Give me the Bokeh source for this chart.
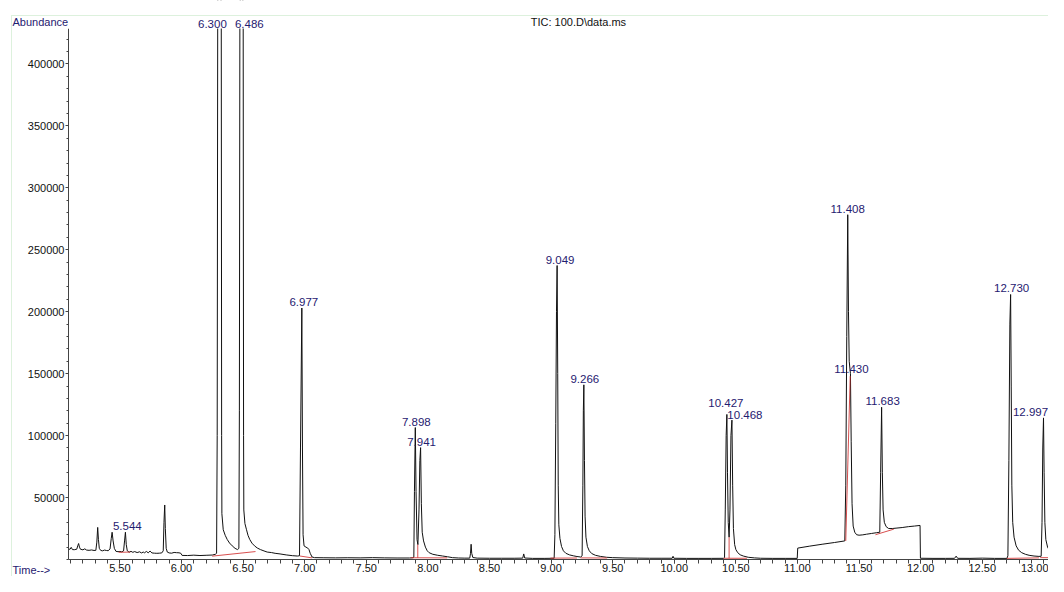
from bokeh.plotting import figure
from bokeh.models import (ColumnDataSource, LabelSet, Label, FixedTicker, BoxAnnotation,
                          SingleIntervalTicker, PrintfTickFormatter, Range1d)
from bokeh.core.properties import value
from bokeh.embed import file_html
from bokeh.resources import INLINE

# ---------------- data ----------------
# trace vertices (retention time [min], abundance)
trace_5_6 = [
    (5.083, 8600), (5.095, 8200), (5.105, 9800), (5.115, 8000), (5.13, 7900),
    (5.15, 8300), (5.158, 11000), (5.165, 12900), (5.172, 10000), (5.18, 8300),
    (5.20, 7800), (5.215, 8600), (5.23, 7600), (5.25, 7400), (5.27, 7700),
    (5.29, 7300), (5.305, 7400), (5.313, 14000), (5.320, 25900), (5.326, 16000),
    (5.333, 9000), (5.345, 7300), (5.36, 7000), (5.375, 7600), (5.39, 7300),
    (5.405, 7100), (5.42, 8500), (5.43, 17000), (5.437, 22000), (5.445, 15000),
    (5.455, 9000), (5.468, 6600), (5.485, 6300), (5.50, 6500), (5.515, 6200),
    (5.53, 6900), (5.538, 15000), (5.545, 22000), (5.552, 12000), (5.56, 7000),
    (5.575, 5900), (5.59, 6600), (5.605, 5800), (5.62, 6400), (5.64, 5600),
    (5.66, 6200), (5.675, 5300), (5.69, 6000), (5.70, 5400), (5.715, 6500),
    (5.73, 5400), (5.745, 6800), (5.76, 5300), (5.78, 5100), (5.80, 5000),
    (5.82, 5100), (5.84, 5300), (5.852, 7000), (5.858, 30000), (5.864, 44000),
    (5.869, 25000), (5.876, 9000), (5.885, 6000), (5.90, 5300), (5.92, 5100),
    (5.94, 5700), (5.96, 5500), (5.98, 5400), (5.995, 5000), (6.005, 3300),
    (6.05, 3200), (6.10, 3500), (6.15, 3200), (6.20, 3400), (6.25, 3600),
    (6.275, 4200),
]
trace_6_8 = [
    (6.285, 5000), (6.290, 100000), (6.294, 430000), (6.300, 560000),
    (6.316, 500000), (6.323, 430000), (6.326, 100000), (6.328, 37000),
    (6.339, 24000), (6.355, 19500), (6.371, 16200), (6.39, 13300),
    (6.412, 11000), (6.435, 9000), (6.455, 8000), (6.466, 9000),
    (6.470, 120000), (6.474, 430000), (6.486, 520000), (6.497, 460000),
    (6.501, 430000), (6.504, 100000), (6.506, 40000), (6.515, 29000),
    (6.528, 24000), (6.54, 19500), (6.554, 16200), (6.572, 13200),
    (6.593, 11000), (6.615, 9300), (6.641, 8000), (6.67, 6900), (6.696, 6000),
    (6.73, 5600), (6.76, 5000), (6.80, 4500), (6.85, 3700), (6.90, 3100),
    (6.94, 2800), (6.958, 3000), (6.966, 90000), (6.977, 203000),
    (6.982, 90000), (6.987, 20000), (6.995, 11000), (7.01, 10000),
    (7.025, 9200), (7.035, 8000), (7.045, 5000), (7.06, 2000), (7.08, 1500),
    (7.15, 1400), (7.25, 1300), (7.35, 1400), (7.45, 1300), (7.55, 1500),
    (7.65, 1300), (7.75, 1200), (7.85, 1200), (7.882, 1400),
]
trace_8_9 = [
    (7.886, 2000), (7.891, 55000), (7.898, 106500), (7.904, 55000),
    (7.912, 16000), (7.919, 12000), (7.928, 40000), (7.935, 80000),
    (7.941, 90300), (7.947, 45000), (7.954, 22000), (7.965, 15000),
    (7.98, 10000), (7.995, 7000), (8.01, 5500), (8.04, 4200), (8.08, 3400),
    (8.12, 2800), (8.16, 2200), (8.20, 1500), (8.25, 1200), (8.30, 1100),
    (8.34, 1100), (8.346, 5000), (8.351, 12300), (8.356, 5000), (8.365, 1600),
    (8.40, 1100), (8.50, 1000), (8.60, 1000), (8.70, 1000), (8.77, 1100),
    (8.778, 4500), (8.786, 1200), (8.85, 900), (8.95, 900), (9.025, 1000),
]
trace_9_10 = [
    (9.031, 20000), (9.038, 110000), (9.044, 200000), (9.049, 237300),
    (9.054, 150000), (9.058, 60000), (9.063, 28000), (9.072, 17000),
    (9.085, 10500), (9.10, 7000), (9.12, 5000), (9.15, 3700), (9.18, 3000),
    (9.21, 2400), (9.24, 2000), (9.252, 3000), (9.258, 60000),
    (9.262, 120000), (9.266, 141000), (9.271, 80000), (9.276, 35000),
    (9.283, 18000), (9.295, 10500), (9.31, 7000), (9.33, 4800), (9.36, 3400),
    (9.40, 2500), (9.45, 1800), (9.50, 1500), (9.60, 1200), (9.70, 1100),
    (9.80, 1000), (9.90, 1000), (9.983, 1000), (9.99, 2600), (9.997, 1000),
    (10.10, 900), (10.20, 900), (10.30, 900), (10.40, 950),
]
trace_10_11 = [
    (10.408, 1500), (10.414, 40000), (10.421, 100000), (10.427, 117100),
    (10.432, 70000), (10.438, 30000), (10.445, 18000), (10.452, 40000),
    (10.460, 100000), (10.468, 112500), (10.474, 60000), (10.48, 25000),
    (10.49, 12000), (10.50, 8000), (10.515, 5500), (10.535, 3800),
    (10.56, 2800), (10.60, 1800), (10.65, 1300), (10.70, 1000), (10.80, 900),
    (10.90, 900), (10.998, 900),
]
trace_11_12 = [
    (11.002, 9200), (11.10, 10800), (11.20, 12300), (11.30, 13700),
    (11.384, 15000), (11.392, 60000), (11.400, 180000), (11.408, 278300),
    (11.414, 200000), (11.420, 160000), (11.430, 150000), (11.436, 95000),
    (11.443, 45000), (11.452, 27000), (11.465, 22000), (11.48, 20000),
    (11.50, 19600), (11.53, 19900), (11.56, 20400), (11.60, 21000),
    (11.64, 21600), (11.668, 22000), (11.675, 70000), (11.683, 122900),
    (11.689, 70000), (11.695, 40000), (11.705, 30000), (11.72, 26500),
    (11.74, 25000), (11.77, 25000), (11.80, 25300), (11.85, 25800),
    (11.90, 26500), (11.95, 27000), (11.995, 27500), (11.998, 1000),
]
trace_12_13 = [
    (12.10, 900), (12.20, 900), (12.275, 950), (12.288, 2700), (12.30, 950),
    (12.40, 900), (12.50, 1100), (12.60, 900), (12.70, 900), (12.708, 3000),
    (12.716, 80000), (12.724, 190000), (12.730, 213900), (12.735, 140000),
    (12.740, 60000), (12.747, 30000), (12.758, 18000), (12.775, 11000),
    (12.795, 7500), (12.82, 5500), (12.85, 4200), (12.88, 3400),
    (12.92, 2800), (12.96, 2500), (12.978, 2600), (12.985, 30000),
    (12.991, 90000), (12.997, 114300), (13.002, 70000), (13.008, 30000),
    (13.016, 16000), (13.03, 10000), (13.05, 6500), (13.07, 4500),
    (13.10, 3200), (13.13, 2500), (13.17, 2000),
]

# labelled peaks
peak_rt = [5.544, 6.300, 6.486, 6.977, 7.898, 7.941, 9.049, 9.266,
           10.427, 10.468, 11.408, 11.430, 11.683, 12.730, 12.997]
peak_label = ["5.544", "6.300", "6.486", "6.977", "7.898", "7.941", "9.049",
              "9.266", "10.427", "10.468", "11.408", "11.430", "11.683",
              "12.730", "12.997"]
peak_height = [22000, 560000, 520000, 203000, 106500, 90300, 237300, 141000,
               117100, 112500, 278300, 150000, 122900, 213900, 114300]

# integration baselines (red): start time, start abundance, end time, end abundance
base_t0 = [5.49, 6.249, 6.962, 7.86, 7.918, 8.995, 9.239, 10.40, 10.445,
           11.392, 11.633, 12.70, 12.97]
base_a0 = [5800, 2700, 2800, 1400, 1400, 1100, 1300, 1000, 1000,
           15000, 20000, 900, 1500]
base_t1 = [5.585, 6.601, 7.06, 8.157, 7.918, 9.21, 9.455, 10.59, 10.445,
           11.428, 11.782, 12.96, 13.17]
base_a1 = [6000, 6400, 1300, 1300, 12000, 1200, 1200, 1000, 18000,
           148000, 24500, 1300, 1500]

y_ticks = [50000, 100000, 150000, 200000, 250000, 300000, 350000, 400000]
y_minor = list(range(0, 430000, 10000))

# ---------------- layout / style ----------------
W, H = 1048, 576
X0, Y1 = 5.083, 428600            # scale limits (time axis start, abundance axis top)
PX_PER_MIN = 123.2
AXIS_LEFT_PX = 68                 # y-axis position from canvas left
AXIS_TOP_PX = 28                  # top of abundance scale from canvas top
AXIS_BOTTOM_PX = 559              # zero line from canvas top
FRAME_LEFT_PX, FRAME_TOP_PX = 11, 15  # thin green frame
px_per_unit = (AXIS_BOTTOM_PX - AXIS_TOP_PX) / Y1
x_lo = X0 - AXIS_LEFT_PX / PX_PER_MIN
x_hi = x_lo + W / PX_PER_MIN
y_lo = -(H - AXIS_BOTTOM_PX) / px_per_unit
y_hi = Y1 + AXIS_TOP_PX / px_per_unit

NAVY = "#1f2070"
FONT = "Liberation Sans"
label_dx = [2, -6, 8, 2, 1, 1, 3, 1, -1, 13, 0, 1, 1, 1, -13]
label_dy = [2, 1, 1, 2, 2, 2, 2, 2, 7, 1, 2, 1, 2, 2, 2]

trace = trace_5_6 + trace_6_8 + trace_8_9 + trace_9_10 + trace_10_11 + trace_11_12 + trace_12_13
tt = [pt[0] for pt in trace]
aa = [pt[1] for pt in trace]

p = figure(width=W, height=H, x_range=Range1d(x_lo, x_hi), y_range=Range1d(y_lo, y_hi),
           output_backend="svg", toolbar_location=None,
           min_border_left=0, min_border_right=0, min_border_top=0, min_border_bottom=0)
p.outline_line_color = None
p.grid.visible = False
p.background_fill_color = "white"
p.border_fill_color = "white"

# axes (drawn inside the frame at fixed data locations)
xa = p.xaxis[0]
xa.fixed_location = 0
xa.bounds = (X0, x_hi)
xa.ticker = SingleIntervalTicker(interval=0.5, num_minor_ticks=5)
xa.formatter = PrintfTickFormatter(format="%.2f")
ya = p.yaxis[0]
ya.fixed_location = X0
ya.bounds = (0, Y1)
ya.ticker = FixedTicker(ticks=y_ticks, minor_ticks=y_minor)
ya.formatter = PrintfTickFormatter(format="%d")
for ax in (xa, ya):
    ax.axis_line_color = "#444444"
    ax.major_tick_line_color = "#444444"
    ax.minor_tick_line_color = "#444444"
    ax.major_tick_in = 0
    ax.minor_tick_in = 0
    ax.major_label_text_font = FONT
    ax.major_label_text_font_size = "11px"
    ax.major_label_text_color = "#111111"
xa.major_tick_out = 4
xa.minor_tick_out = 4
xa.major_label_standoff = 0
ya.major_tick_out = 3
ya.minor_tick_out = 2
ya.major_label_standoff = 1

# trace and integration baselines
p.line(tt, aa, line_color="#111111", line_width=1, line_join="round")
p.segment(x0=base_t0, y0=base_a0, x1=base_t1, y1=base_a1,
          line_color="#d03030", line_width=1, line_alpha=0.85)

# off-scale part hidden above the abundance scale
p.add_layout(BoxAnnotation(bottom=Y1, top=y_hi + Y1, left=x_lo - 1, right=x_hi + 1,
                           fill_color="white", fill_alpha=1.0, line_color=None))

# thin green frame (top and left edges)
p.add_layout(BoxAnnotation(left=x_lo + FRAME_LEFT_PX / PX_PER_MIN,
                           top=y_hi - FRAME_TOP_PX / px_per_unit,
                           right=x_hi + 1, bottom=y_lo - 100000,
                           fill_alpha=0, line_color="#8fd18f", line_width=1))

# peak labels
lab_src = ColumnDataSource(dict(
    x=peak_rt, y=[min(h, Y1) for h in peak_height], text=peak_label,
    dx=label_dx, dy=label_dy))
p.add_layout(LabelSet(x="x", y="y", text="text", x_offset="dx", y_offset="dy",
                      source=lab_src, text_align="center", text_baseline="bottom",
                      text_font=value(FONT), text_font_size=value("11.5px"),
                      text_color=NAVY))

p.add_layout(Label(x=X0, y=Y1, x_offset=-56, y_offset=1, text="Abundance",
                   text_align="left", text_baseline="bottom", text_font=FONT,
                   text_font_size="11px", text_color=NAVY))
p.add_layout(Label(x=9.222, y=Y1, y_offset=1, text="TIC: 100.D\\data.ms",
                   text_align="center", text_baseline="bottom", text_font=FONT,
                   text_font_size="11px", text_color="#111111"))
p.add_layout(Label(x=X0, y=0, x_offset=-56, y_offset=-4, text="Time-->",
                   text_align="left", text_baseline="top", text_font=FONT,
                   text_font_size="11px", text_color=NAVY))

open("out.html", "w").write(file_html(p, INLINE))
